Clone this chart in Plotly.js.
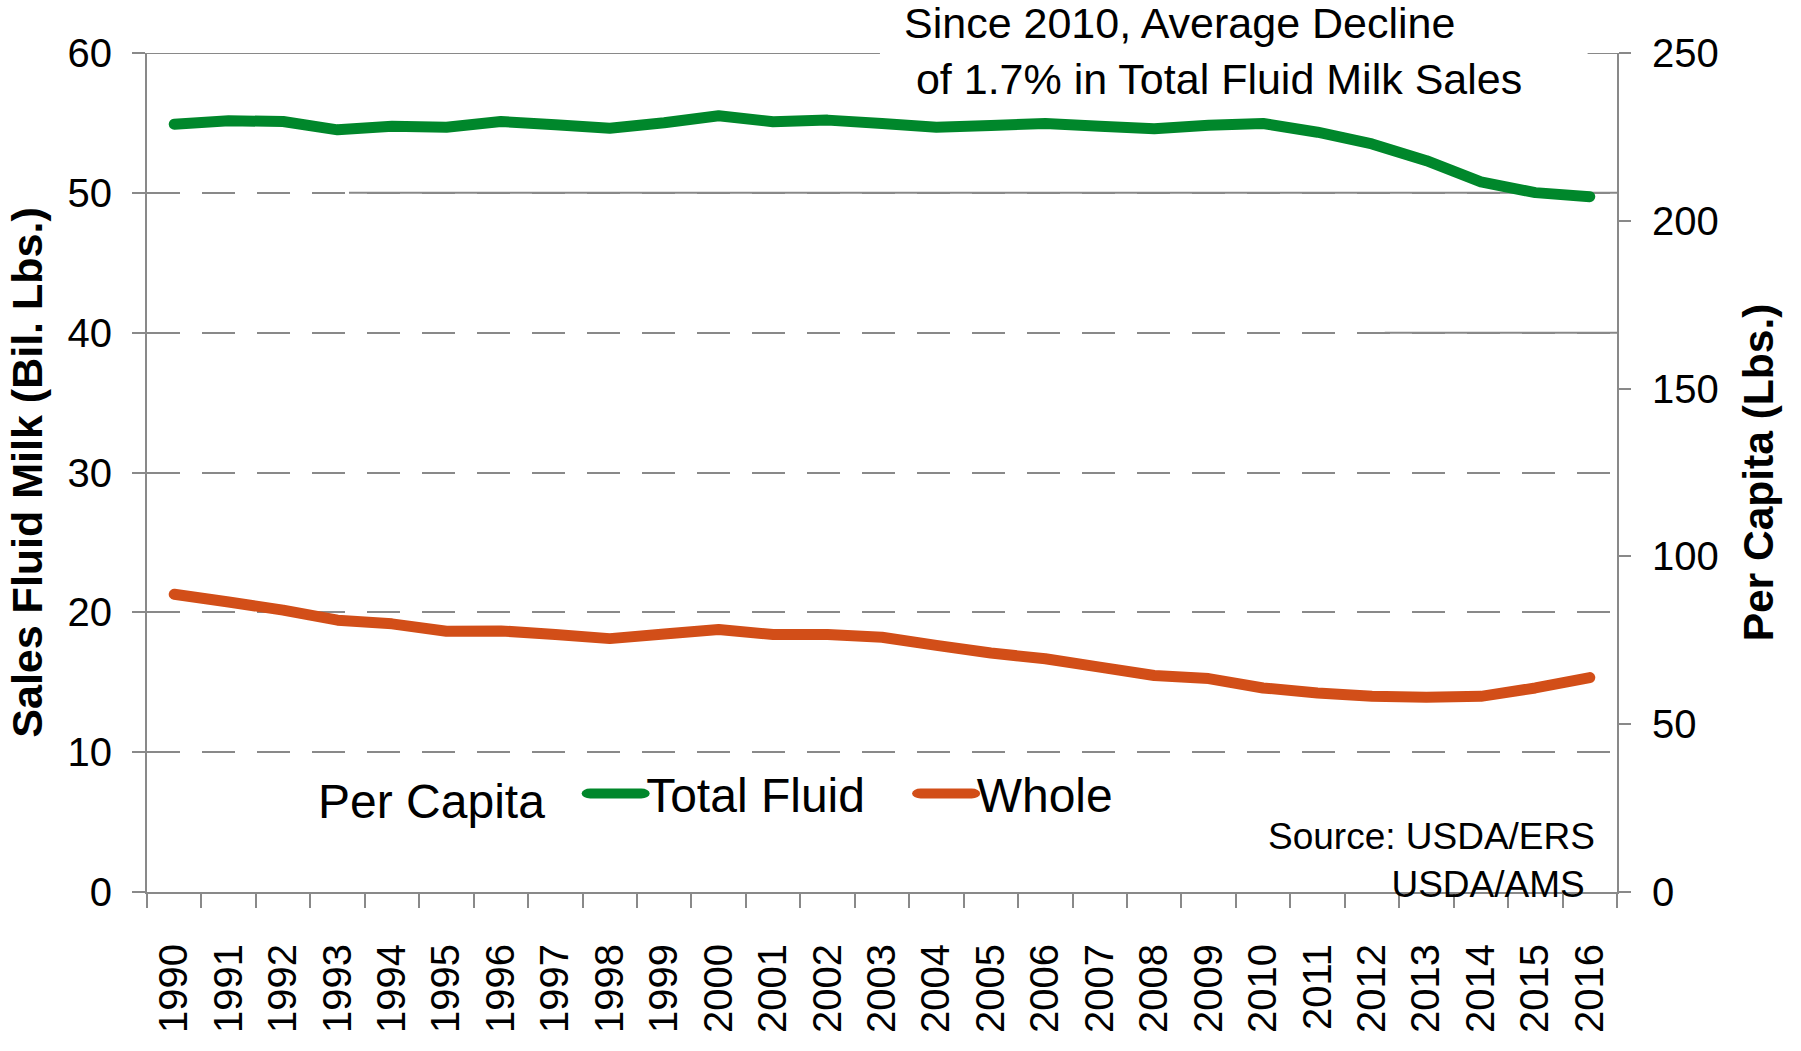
<!DOCTYPE html>
<html>
<head>
<meta charset="utf-8">
<script src="https://cdn.plot.ly/plotly-3.0.1.min.js"></script>
<style>
  html, body { margin: 0; padding: 0; background: #fff; }
  #chart { width: 1801px; height: 1051px; }
  .scatterlayer .js-line { stroke-linecap: round; stroke-linejoin: round; }
  .legendlines path { stroke-linecap: round; transform: matrix(1.7,0,0,1,-24.5,0); }
</style>
</head>
<body>
<div id="chart"></div>
<script>
const years = ['1990','1991','1992','1993','1994','1995','1996','1997','1998','1999','2000','2001','2002','2003','2004','2005','2006','2007','2008','2009','2010','2011','2012','2013','2014','2015','2016'];
const totalFluidPerCapita = [228.8,229.8,229.6,227.1,228.2,227.9,229.6,228.6,227.6,229.2,231.3,229.5,230.0,229.0,227.9,228.4,229.0,228.2,227.4,228.5,229.0,226.4,222.9,217.9,211.6,208.4,207.2];
const wholePerCapita = [88.7,86.4,84.0,81.0,79.9,77.7,77.8,76.7,75.5,76.9,78.2,76.7,76.7,75.9,73.5,71.2,69.5,67.0,64.5,63.6,60.8,59.3,58.3,58.0,58.3,60.8,63.9];
const leftTicks = [0,10,20,30,40,50,60];
const rightTicks = [0,50,100,150,200,250];

const FONT = 'Liberation Sans, Arial, Helvetica, sans-serif';
const GRAY = '#898989';
const NB = n => '&nbsp;'.repeat(n);

const traces = [
  { x: years, y: totalFluidPerCapita, name: 'Total Fluid' + NB(5), type: 'scatter', mode: 'lines', yaxis: 'y2',
    line: { color: '#00872B', width: 11, simplify: false } },
  { x: years, y: wholePerCapita, name: 'Whole', type: 'scatter', mode: 'lines', yaxis: 'y2',
    line: { color: '#D24E18', width: 11, simplify: false } }
];

const layout = {
  width: 1801, height: 1051,
  margin: { l: 147, r: 184, t: 53, b: 159 },
  paper_bgcolor: '#fff', plot_bgcolor: '#fff',
  font: { family: FONT, color: '#000' },
  showlegend: true,
  xaxis: {
    type: 'category', range: [-0.5, 26.5], tickangle: -90,
    ticks: 'outside', ticklen: 14, tickwidth: 2, tickcolor: GRAY, tickson: 'boundaries',
    showline: true, linecolor: GRAY, linewidth: 2, showgrid: false, zeroline: false,
    tickfont: { size: 40, family: FONT }, ticklabelstandoff: 34
  },
  yaxis: {
    range: [0, 60], tickvals: leftTicks, ticks: 'outside', ticklen: 13, tickwidth: 2, tickcolor: GRAY,
    showline: true, linecolor: GRAY, linewidth: 2,
    showgrid: true, gridcolor: GRAY, gridwidth: 2, griddash: '33px,22px', zeroline: false,
    tickfont: { size: 40, family: FONT }, ticklabelstandoff: 12,
    title: { text: 'Sales Fluid Milk (Bil. Lbs.)', font: { size: 43, family: FONT, weight: 'bold' }, standoff: 11 }
  },
  yaxis2: {
    overlaying: 'y', side: 'right', range: [0, 250], tickvals: rightTicks,
    ticks: 'outside', ticklen: 12, tickwidth: 2, tickcolor: GRAY,
    showline: true, linecolor: GRAY, linewidth: 2, showgrid: false, zeroline: false,
    tickfont: { size: 40, family: FONT }, ticklabelstandoff: 13,
    title: { text: 'Per Capita (Lbs.)', font: { size: 42.5, family: FONT, weight: 'bold' }, standoff: 25 }
  },
  legend: {
    orientation: 'h', x: 0.115, xanchor: 'left', y: 0.117, yanchor: 'middle',
    bgcolor: 'rgba(0,0,0,0)', font: { size: 48, family: FONT },
    title: { text: 'Per Capita' + NB(4), side: 'left', font: { size: 48, family: FONT } },
    itemwidth: 30, traceorder: 'normal'
  },
  shapes: [
    { type: 'line', layer: 'between', xref: 'paper', yref: 'y', x0: 0, x1: 1, y0: 60, y1: 60, line: { color: GRAY, width: 2 } },
    { type: 'line', layer: 'between', xref: 'paper', yref: 'y', x0: 0.1374, x1: 1, y0: 50, y1: 50, line: { color: GRAY, width: 2 } },
    { type: 'line', layer: 'between', xref: 'paper', yref: 'y', x0: 0.842, x1: 1, y0: 40, y1: 40, line: { color: GRAY, width: 2 } },
    { type: 'rect', layer: 'between', xref: 'paper', yref: 'paper', x0: 0.4986, x1: 0.980, y0: 0.96, y1: 1.07, fillcolor: '#fff', line: { width: 0 } },
    { type: 'rect', layer: 'between', xref: 'paper', yref: 'y', x0: 0.046, x1: 0.689, y0: 9, y1: 11, fillcolor: '#fff', line: { width: 0 } }
  ],
  annotations: [
    { xref: 'paper', yref: 'paper', x: 0.5136, y: 1.0024, xanchor: 'left', yanchor: 'middle', align: 'left', showarrow: false,
      text: 'Since 2010, Average Decline<br>&nbsp;of 1.7% in Total Fluid Milk Sales', font: { size: 43, family: FONT, color: '#000' } },
    { xref: 'paper', yref: 'paper', x: 0.9864, y: 0.0381, xanchor: 'right', yanchor: 'middle', align: 'right', showarrow: false,
      text: 'Source: USDA/ERS<br>USDA/AMS&nbsp;', font: { size: 37, family: FONT, color: '#000' } }
  ]
};

Plotly.newPlot('chart', traces, layout, { displayModeBar: false, staticPlot: true });
</script>
</body>
</html>
